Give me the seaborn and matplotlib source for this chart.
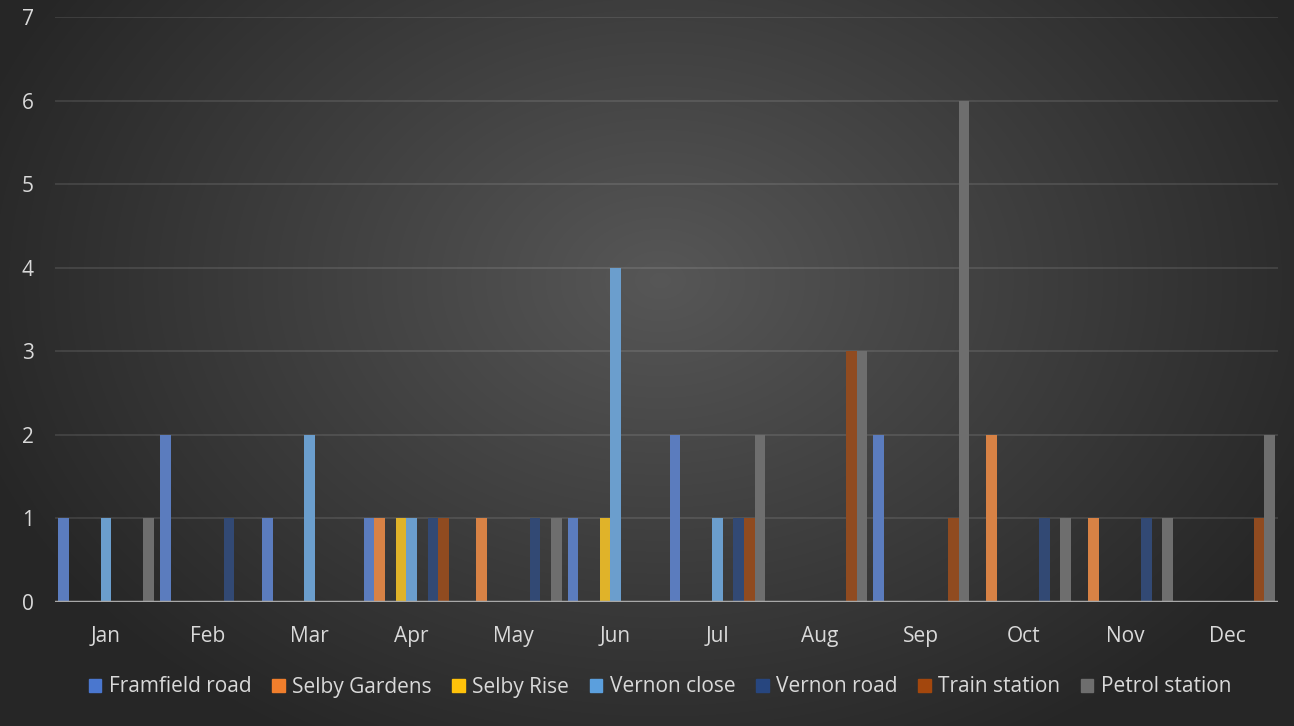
import numpy as np
import pandas as pd
import matplotlib
matplotlib.use("Agg")
import matplotlib.pyplot as plt
import matplotlib.patches as mpatches
import seaborn as sns

# data
months = ['Jan', 'Feb', 'Mar', 'Apr', 'May', 'Jun', 'Jul', 'Aug', 'Sep', 'Oct', 'Nov', 'Dec']
framfield_road = [1, 2, 1, 1, 0, 1, 2, 0, 2, 0, 0, 0]
selby_gardens  = [0, 0, 0, 1, 1, 0, 0, 0, 0, 2, 1, 0]
selby_rise     = [0, 0, 0, 1, 0, 1, 0, 0, 0, 0, 0, 0]
vernon_close   = [1, 0, 2, 1, 0, 4, 1, 0, 0, 0, 0, 0]
vernon_road    = [0, 1, 0, 1, 1, 0, 1, 0, 0, 1, 1, 0]
train_station  = [0, 0, 0, 1, 0, 0, 1, 3, 1, 0, 0, 1]
petrol_station = [1, 0, 0, 0, 1, 0, 2, 3, 6, 1, 1, 2]
# two empty series still take up a slot in each month group (hidden from legend)
empty_series = [0] * 12

series = {
    'Framfield road': framfield_road,
    'Selby Gardens': selby_gardens,
    '_blank1': empty_series,
    'Selby Rise': selby_rise,
    'Vernon close': vernon_close,
    '_blank2': empty_series,
    'Vernon road': vernon_road,
    'Train station': train_station,
    'Petrol station': petrol_station,
}
colors = {
    'Framfield road': '#4a77cf',
    'Selby Gardens': '#f07e2c',
    '_blank1': '#A5A5A5',
    'Selby Rise': '#ffc20a',
    'Vernon close': '#5b9fdd',
    '_blank2': '#70AD47',
    'Vernon road': '#27467f',
    'Train station': '#a3470d',
    'Petrol station': '#6e6e6e',
}

rows = []
for name, vals in series.items():
    for m, v in zip(months, vals):
        rows.append({'month': m, 'series': name, 'count': v})
df = pd.DataFrame(rows)

fig = plt.figure(figsize=(12.94, 7.26), dpi=100)

# dark radial background
bg = fig.add_axes([0, 0, 1, 1], zorder=-10)
yy, xx = np.mgrid[0:726, 0:1294]
r = np.sqrt(((xx - 660) / 760.0) ** 2 + ((yy - 280) / 560.0) ** 2)
shade = np.clip(0.34 - 0.2 * r, 0.15, 0.34)
bg.imshow(np.dstack([shade] * 3), aspect='auto', extent=[0, 1, 0, 1])
bg.axis('off')

ax = fig.add_axes([55 / 1294, 1 - 602 / 726, (1278 - 55) / 1294, (602 - 17) / 726])
ax.set_facecolor('none')

sns.barplot(data=df, x='month', y='count', hue='series', hue_order=list(series.keys()),
            palette=colors, width=0.94, linewidth=0, legend=False, ax=ax, zorder=3)

ax.set_ylim(0, 7)
ax.set_xlim(-0.5, 11.5)
ax.set_yticks(range(0, 8))
ax.grid(axis='y', color='white', alpha=0.1, lw=1.5, zorder=0)
ax.grid(axis='x', visible=False)
ax.axhline(0, color='#a8a8a8', lw=2.5, zorder=4)
for s in ax.spines.values():
    s.set_visible(False)
ax.tick_params(axis='both', length=0, colors='#d9d9d9', labelsize=15)
ax.tick_params(axis='x', pad=17)
ax.tick_params(axis='y', pad=24)
ax.set_xlabel('')
ax.set_ylabel('')
for lab in ax.get_xticklabels() + ax.get_yticklabels():
    lab.set_fontfamily('Open Sans')
for lab in ax.get_yticklabels():
    lab.set_horizontalalignment('left')

handles = [mpatches.Patch(color=colors[n], label=n) for n in series if not n.startswith('_')]
leg = fig.legend(handles=handles, loc='center', bbox_to_anchor=(660 / 1294, 1 - 687 / 726),
                 ncol=7, frameon=False, handlelength=0.6, handleheight=0.6,
                 handletextpad=0.35, columnspacing=1.0,
                 prop={'family': 'Open Sans', 'size': 15})
for t in leg.get_texts():
    t.set_color('#d9d9d9')

fig.savefig('out.png', dpi=100)
